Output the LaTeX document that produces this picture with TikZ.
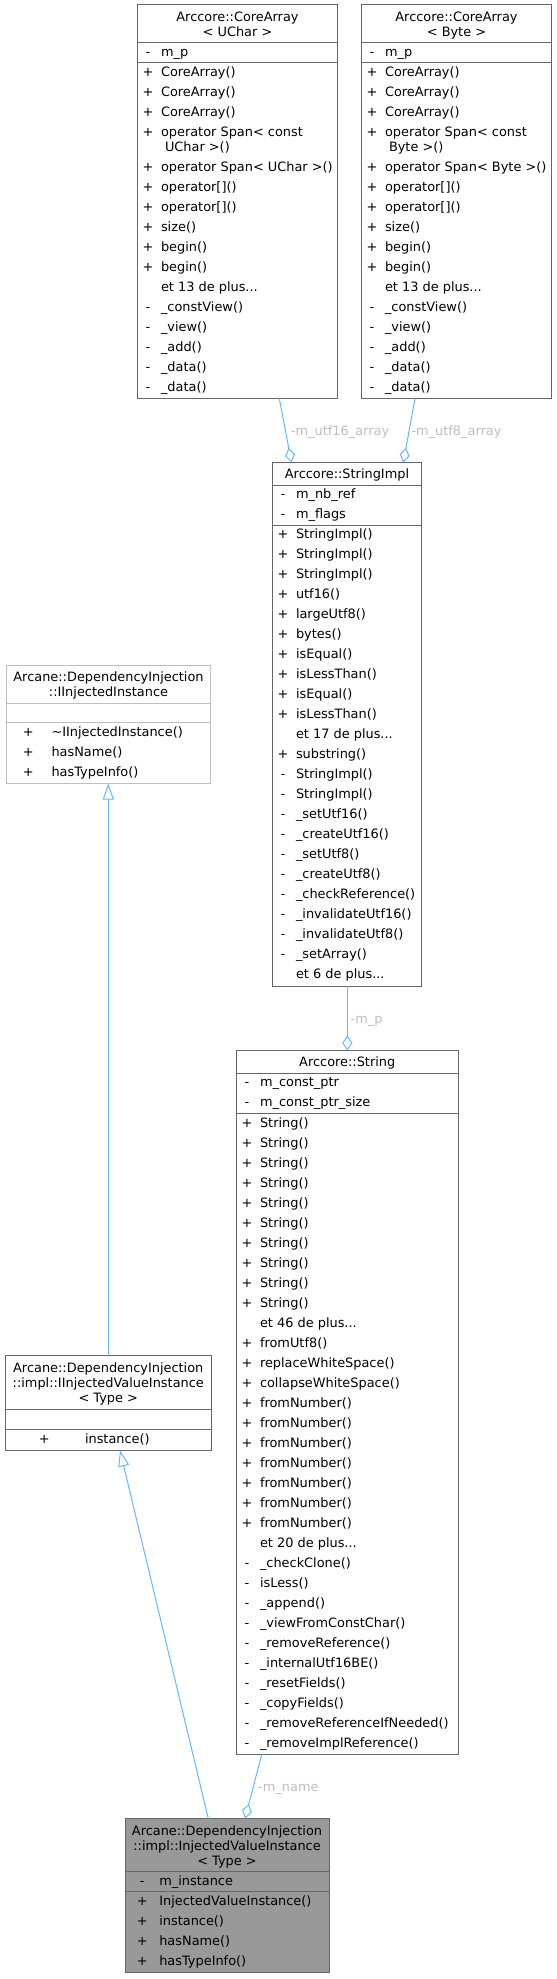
\documentclass[tikz,border=0pt]{standalone}
\usepackage{fontspec}
\setmainfont{DejaVu Sans}
\usetikzlibrary{arrows.meta,calc}
\definecolor{bord}{HTML}{666666}
\definecolor{bordlight}{HTML}{BFBFBF}
\definecolor{mainfill}{HTML}{999999}
\definecolor{edgec}{HTML}{63B8FF}
\definecolor{lblc}{HTML}{BEBEBE}
\newcommand\fsz{\fontsize{12.9}{15}\selectfont}
\newcommand\ddd{...}
\tikzset{
  classbox/.style={rectangle, line width=1pt, inner sep=0pt, outer sep=0pt, anchor=north west},
  txt/.style={inner sep=0pt, outer sep=0pt, anchor=base west, yshift=-4.3pt, font=\fsz},
  vis/.style={inner sep=0pt, outer sep=0pt, anchor=base, yshift=-4.3pt, font=\fsz},
  hdr/.style={inner sep=0pt, outer sep=0pt, anchor=base, yshift=-4.3pt, font=\fsz},
  elabel/.style={inner sep=0pt, outer sep=0pt, anchor=base west, yshift=-4.3pt, text=lblc, font=\fsz},
  aggr/.style={draw=edgec, line width=1pt, -{Diamond[open, length=15pt, width=10pt]}},
  inh/.style={draw=edgec, line width=1pt, -{Triangle[open, length=16pt, width=11pt]}},
}
% #1 name, #2 L, #3 R, #4 T, #5 header sep, #6 attr sep, #7 B, #8 border, #9 fill
\newcommand\cbox[9]{%
  \node[classbox, draw=#8, fill=#9, minimum width={#3-#2}, minimum height={#7-#4}] (#1) at (#2,-#4) {};
  \draw[draw=#8, line width=1pt] (#2,-#5) -- (#3,-#5);
  \draw[draw=#8, line width=1pt] (#2,-#6) -- (#3,-#6);
}
% #1 name, #2 vis x, #3 name x, #4 y, #5 vis, #6 text
\newcommand\vrow[6]{%
  \node[vis] (#1v) at (#2,{-(#4)}) {#5};
  \node[txt] (#1t) at (#3,{-(#4)}) {#6};
}
\begin{document}
\begin{tikzpicture}[x=1pt,y=1pt]
\useasboundingbox (0,0) rectangle (557,-1979);

% ---------- A: CoreArray<UChar>
\cbox{A}{137.5}{337.5}{4.5}{42.5}{62.5}{398.5}{bord}{white}
\node[hdr] (Ah1) at (237.5,-17) {Arccore::CoreArray};
\node[hdr] (Ah2) at (237.5,-32) {< UChar >};
\vrow{Aa0}{148}{161}{52}{-}{m\_p}
\foreach \v/\t [count=\i from 0] in {+/CoreArray(),+/CoreArray(),+/CoreArray(),+/operator Span< const}
  {\vrow{Ab\i}{148}{161}{72+20*\i}{\v}{\t}}
\node[txt] (Aw) at (165,-147) {UChar >()};
\foreach \v/\t [count=\i from 0] in {+/operator Span< UChar >(),+/operator[](),+/operator[](),+/size(),+/begin(),+/begin(),{}/et 13 de plus\ddd,-/\_constView(),-/\_view(),-/\_add(),-/\_data(),-/\_data()}
  {\vrow{Ac\i}{148}{161}{167+20*\i}{\v}{\t}}

% ---------- B: CoreArray<Byte>
\cbox{B}{361.5}{551.5}{4.5}{42.5}{62.5}{398.5}{bord}{white}
\node[hdr] (Bh1) at (456.5,-17) {Arccore::CoreArray};
\node[hdr] (Bh2) at (456.5,-32) {< Byte >};
\vrow{Ba0}{372}{385}{52}{-}{m\_p}
\foreach \v/\t [count=\i from 0] in {+/CoreArray(),+/CoreArray(),+/CoreArray(),+/operator Span< const}
  {\vrow{Bb\i}{372}{385}{72+20*\i}{\v}{\t}}
\node[txt] (Bw) at (389,-147) {Byte >()};
\foreach \v/\t [count=\i from 0] in {+/operator Span< Byte >(),+/operator[](),+/operator[](),+/size(),+/begin(),+/begin(),{}/et 13 de plus\ddd,-/\_constView(),-/\_view(),-/\_add(),-/\_data(),-/\_data()}
  {\vrow{Bc\i}{372}{385}{167+20*\i}{\v}{\t}}

% ---------- C: StringImpl
\cbox{C}{272.5}{421.5}{462.5}{485}{525}{986}{bord}{white}
\node[hdr] (Ch1) at (347,-474) {Arccore::StringImpl};
\vrow{Ca0}{283}{296}{494.5}{-}{m\_nb\_ref}
\vrow{Ca1}{283}{296}{514.5}{-}{m\_flags}
\foreach \v/\t [count=\i from 0] in {+/StringImpl(),+/StringImpl(),+/StringImpl(),+/utf16(),+/largeUtf8(),+/bytes(),+/isEqual(),+/isLessThan(),+/isEqual(),+/isLessThan(),{}/et 17 de plus\ddd,+/substring(),-/StringImpl(),-/StringImpl(),-/\_setUtf16(),-/\_createUtf16(),-/\_setUtf8(),-/\_createUtf8(),-/\_checkReference(),-/\_invalidateUtf16(),-/\_invalidateUtf8(),-/\_setArray(),{}/et 6 de plus\ddd}
  {\vrow{Cm\i}{283}{296}{534.5+20*\i}{\v}{\t}}

% ---------- D: String
\cbox{D}{236.5}{458}{1050.5}{1073}{1113.5}{1754.5}{bord}{white}
\node[hdr] (Dh1) at (347.25,-1062) {Arccore::String};
\vrow{Da0}{247}{260}{1082.5}{-}{m\_const\_ptr}
\vrow{Da1}{247}{260}{1102.5}{-}{m\_const\_ptr\_size}
\foreach \v/\t [count=\i from 0] in {+/String(),+/String(),+/String(),+/String(),+/String(),+/String(),+/String(),+/String(),+/String(),+/String(),{}/et 46 de plus\ddd,+/fromUtf8(),+/replaceWhiteSpace(),+/collapseWhiteSpace(),+/fromNumber(),+/fromNumber(),+/fromNumber(),+/fromNumber(),+/fromNumber(),+/fromNumber(),+/fromNumber(),{}/et 20 de plus\ddd,-/\_checkClone(),-/isLess(),-/\_append(),-/\_viewFromConstChar(),-/\_removeReference(),-/\_internalUtf16BE(),-/\_resetFields(),-/\_copyFields(),-/\_removeReferenceIfNeeded(),-/\_removeImplReference()}
  {\vrow{Dm\i}{247}{260}{1123+20*\i}{\v}{\t}}

% ---------- E: IInjectedInstance
\cbox{E}{6.5}{210.5}{665}{703}{722.5}{783.5}{bordlight}{white}
\node[hdr] (Eh1) at (108.5,-677.5) {Arcane::DependencyInjection};
\node[hdr] (Eh2) at (108.5,-692.5) {::IInjectedInstance};
\foreach \v/\t [count=\i from 0] in {+/\textasciitilde IInjectedInstance(),+/hasName(),+/hasTypeInfo()}
  {\vrow{Em\i}{28.3}{51.5}{732+20*\i}{\v}{\t}}

% ---------- F: IInjectedValueInstance<Type>
\cbox{F}{5}{211.5}{1355.5}{1409}{1429}{1450.5}{bord}{white}
\node[hdr] (Fh1) at (108.25,-1368) {Arcane::DependencyInjection};
\node[hdr] (Fh2) at (108.25,-1383) {::impl::IInjectedValueInstance};
\node[hdr] (Fh3) at (108.25,-1398) {< Type >};
\vrow{Fm0}{44.3}{85}{1439}{+}{instance()}

% ---------- G: InjectedValueInstance<Type>
\cbox{G}{125}{329}{1818.5}{1871.5}{1891.5}{1972.5}{bord}{mainfill}
\node[hdr] (Gh1) at (227,-1831) {Arcane::DependencyInjection};
\node[hdr] (Gh2) at (227,-1846) {::impl::InjectedValueInstance};
\node[hdr] (Gh3) at (227,-1861) {< Type >};
\vrow{Ga0}{142.3}{159.3}{1881}{-}{m\_instance}
\foreach \v/\t [count=\i from 0] in {+/InjectedValueInstance(),+/instance(),+/hasName(),+/hasTypeInfo()}
  {\vrow{Gm\i}{142.3}{159.3}{1901+20*\i}{\v}{\t}}

% ---------- connectors
\coordinate (Aout) at ($(A.south west)+(141.8,0)$);
\coordinate (Cin1) at ($(C.north west)+(19,0)$);
\coordinate (Bout) at ($(B.south west)+(53.5,0)$);
\coordinate (Cin2) at ($(C.north west)+(130.8,0)$);
\coordinate (Cout) at ($(C.south west)+(74.8,0)$);
\coordinate (Din) at ($(D.north west)+(110.8,0)$);
\coordinate (Dout) at ($(D.south west)+(25.2,0)$);
\coordinate (Gin1) at ($(G.north west)+(120,0)$);
\coordinate (Gout) at ($(G.north west)+(83.3,0)$);
\coordinate (Fin) at ($(F.south west)+(115,0)$);
\coordinate (Fout) at ($(F.north west)+(103.3,0)$);
\coordinate (Ein) at ($(E.south west)+(101.8,0)$);

\draw[aggr] (Aout) -- (Cin1);
\draw[aggr] (Bout) -- (Cin2);
\draw[aggr] (Cout) -- (Din);
\draw[aggr] (Dout) -- (Gin1);
\draw[inh] (Fout) -- (Ein);
\draw[inh] (Gout) -- (Fin);

\node[elabel] (L1) at (291,-431) {-m\_utf16\_array};
\node[elabel] (L2) at (411.5,-431) {-m\_utf8\_array};
\node[elabel] (L3) at (350.7,-1019) {-m\_p};
\node[elabel] (L4) at (258.3,-1787) {-m\_name};
\end{tikzpicture}
\end{document}
